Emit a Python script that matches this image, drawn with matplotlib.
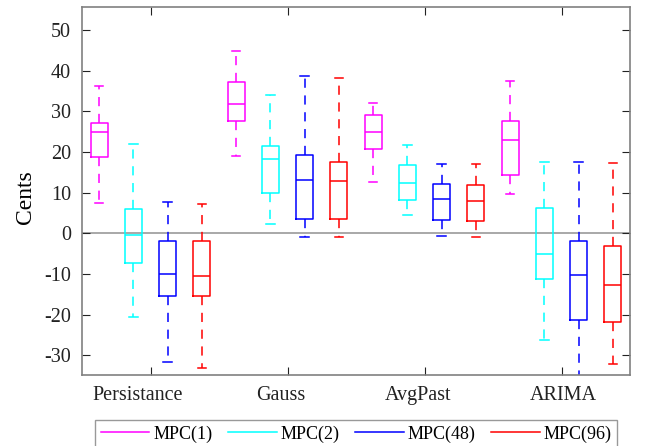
import numpy as np
import matplotlib
matplotlib.use("Agg")
import matplotlib.pyplot as plt
import matplotlib.transforms as mtransforms
from matplotlib.lines import Line2D

plt.rcParams['font.family'] = ['Liberation Serif', 'DejaVu Serif']
plt.rcParams['axes.unicode_minus'] = False

methods = ['Persistance', 'Gauss', 'AvgPast', 'ARIMA']
series = ['MPC(1)', 'MPC(2)', 'MPC(48)', 'MPC(96)']
colors = ['#ff00ff', '#00ffff', '#0000ff', '#ff0000']

# whisker low, Q1, median, Q3, whisker high  (per method, per series)
whislo = [[7.4, -20.5, -31.7, -33.2],
          [19.0, 2.4, -0.8, -0.9],
          [12.5, 4.4, -0.7, -0.9],
          [9.7, -26.2, -38.0, -32.0]]
q1 = [[18.8, -7.2, -15.5, -15.5],
      [27.6, 9.9, 3.6, 3.6],
      [20.8, 8.2, 3.2, 3.1],
      [14.3, -11.2, -21.2, -21.9]]
med = [[24.8, -0.5, -10.0, -10.5],
       [31.8, 18.2, 13.1, 12.8],
       [24.8, 12.3, 8.4, 7.9],
       [23.0, -5.0, -10.3, -12.8]]
q3 = [[27.2, 5.9, -1.9, -1.9],
      [37.2, 21.5, 19.3, 17.6],
      [29.0, 16.9, 12.2, 11.9],
      [27.7, 6.2, -2.0, -3.2]]
whishi = [[36.3, 22.0, 7.8, 7.3],
          [44.8, 34.0, 38.6, 38.2],
          [32.1, 21.6, 17.1, 17.1],
          [37.4, 17.6, 17.5, 17.4]]

fig = plt.figure(figsize=(6.49, 4.46), dpi=100)
ax = fig.add_axes([82 / 649, 1 - 375 / 446, 548 / 649, 368 / 446])

ax.axhline(0, color='#999999', lw=1.2, zorder=1)

for g in range(len(methods)):
    for s in range(len(series)):
        pos = 4 * g + s + 1
        st = dict(whislo=whislo[g][s], q1=q1[g][s], med=med[g][s],
                  q3=q3[g][s], whishi=whishi[g][s], fliers=[])
        c = colors[s]
        ax.bxp([st], positions=[pos], widths=0.5, showfliers=False,
               boxprops=dict(color=c, lw=1.1),
               medianprops=dict(color=c, lw=1.1),
               whiskerprops=dict(color=c, lw=1.1, ls=(0, (6, 5))),
               capprops=dict(color=c, lw=1.1), capwidths=0.25,
               manage_ticks=False)

ax.set_xlim(0.5, 16.5)
ax.set_ylim(-34.8, 55.6)
ax.set_xticks([2.5, 6.5, 10.5, 14.5])
ax.set_xticklabels(methods)
ax.set_yticks(np.arange(-30, 51, 10))
ax.tick_params(direction='in', length=6, width=0.8, labelsize=14.5,
               top=True, right=True, colors='#222222', pad=8)
for sp in ax.spines.values():
    sp.set_color('#808080')
    sp.set_linewidth(1.2)
ax.set_ylabel('Cents', fontsize=17)
ax.yaxis.set_label_coords(-0.084, 0.484)

# group labels sit a little left of their ticks in the original
shifts = [-13, -7, -6, 1.5]
for lab, dx in zip(ax.get_xticklabels(), shifts):
    off = mtransforms.ScaledTranslation(dx / 100, 0, fig.dpi_scale_trans)
    lab.set_transform(lab.get_transform() + off)

handles = [Line2D([0], [0], color=c, lw=1.1) for c in colors]
fig.legend(handles, series, loc='upper center', ncol=4,
           bbox_to_anchor=(356 / 649, 1 - 420 / 446), fontsize=13,
           frameon=True, fancybox=False, edgecolor='#808080',
           handlelength=2.7, columnspacing=0.87, handletextpad=0.2,
           borderpad=0.3, borderaxespad=0)

fig.savefig('out.png', dpi=100)
